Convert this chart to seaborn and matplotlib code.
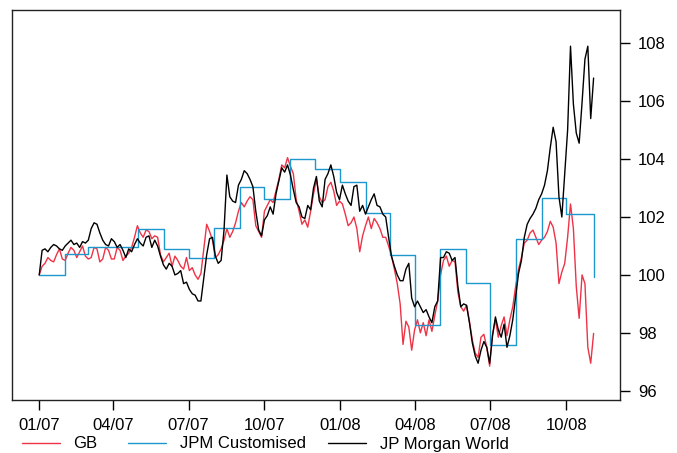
import pandas as pd
import matplotlib
matplotlib.use("Agg")
import matplotlib.pyplot as plt
import matplotlib.dates as mdates
import seaborn as sns

dates = pd.date_range("2007-01-01", "2008-11-03", freq="84h")

gb = [100.0, 100.3, 100.4, 100.6, 100.5, 100.45, 100.7, 100.9, 100.55, 100.5,
      100.75, 100.95, 100.85, 100.6, 100.8, 101.0, 100.65, 100.55, 100.6, 100.95,
      100.9, 100.45, 100.55, 100.95, 100.85, 100.55, 100.55, 100.95, 100.85, 100.5,
      100.65, 100.75, 100.95, 101.3, 101.7, 101.45, 101.3, 101.55, 101.5, 101.25,
      101.35, 101.3, 100.7, 100.45, 100.6, 100.75, 100.3, 100.65, 100.5, 100.3,
      100.2, 100.6, 100.15, 100.25, 100.0, 99.85, 100.05, 100.9, 101.75, 101.5,
      101.2, 100.6, 100.7, 100.9, 101.2, 101.6, 101.3, 101.5, 101.8, 102.2,
      102.5, 102.35, 102.55, 102.7, 102.6, 101.7, 101.5, 101.3, 102.2, 102.4,
      102.6, 102.5, 102.9, 103.3, 103.8, 103.7, 104.05, 103.75, 103.5, 102.6,
      102.2, 101.75, 101.9, 101.65, 102.2, 102.8, 103.3, 102.7, 102.5, 102.6,
      103.05, 103.2, 102.9, 102.4, 102.55, 102.45, 102.1, 101.7, 101.8, 102.0,
      101.6, 100.8, 101.35, 101.7, 102.0, 101.6, 101.95, 101.8, 101.6, 101.3,
      101.3, 101.0, 100.65, 100.2, 99.7, 99.0, 97.6, 98.4, 98.2, 97.4,
      98.1, 98.45, 98.0, 98.35, 97.9, 98.45, 98.05, 98.6, 99.1, 100.0,
      100.5, 100.65, 100.3, 100.5, 100.45, 99.4, 98.9, 98.75, 98.95, 98.4,
      97.75, 97.3, 97.15, 97.85, 97.95, 97.5, 96.85, 97.95, 98.45, 97.85,
      98.25, 98.55, 97.9, 98.45, 98.9, 99.6, 100.2, 100.6, 101.1, 101.2,
      101.45, 101.55, 101.3, 101.05, 101.2, 101.3, 101.5, 101.85, 101.65, 101.1,
      99.7, 100.1, 100.4, 101.3, 102.45, 101.6, 99.6, 98.5, 100.0, 99.7,
      97.5, 96.95, 97.98]

jpm_world = [100.0, 100.85, 100.9, 100.8, 100.95, 101.05, 101.0, 100.9, 100.85, 101.0,
             101.1, 101.2, 101.05, 101.1, 100.95, 101.15, 101.1, 101.2, 101.6, 101.8,
             101.75, 101.45, 101.2, 101.05, 101.0, 101.25, 101.15, 100.95, 101.05, 100.85,
             100.6, 100.9, 100.8, 101.05, 101.25, 101.1, 101.0, 101.3, 101.35, 100.95,
             101.2, 101.0, 100.65, 100.35, 100.2, 100.4, 100.3, 100.0, 100.05, 100.15,
             99.7, 99.75, 99.5, 99.35, 99.3, 99.1, 99.1, 99.9, 100.7, 101.25,
             101.3, 100.65, 100.4, 100.5, 101.55, 103.45, 102.7, 102.55, 102.5, 103.1,
             103.3, 103.6, 103.5, 103.3, 103.05, 102.2, 101.55, 101.35, 101.9, 102.05,
             102.35, 102.1, 102.8, 103.25, 103.7, 103.55, 103.8, 103.45, 102.95, 102.5,
             102.35, 102.0, 101.95, 102.4, 102.25, 103.0, 103.4, 102.55, 102.35, 103.3,
             103.5, 103.8, 103.4, 102.85, 102.6, 103.1, 102.8, 102.55, 102.4, 103.05,
             103.1, 102.2, 102.4, 102.1, 102.35, 102.6, 102.8, 102.4, 102.35, 102.1,
             102.0, 101.3, 100.65, 100.3, 100.0, 99.8, 99.8, 100.2, 100.4, 99.2,
             98.9, 99.1, 98.9, 98.7, 98.8, 98.55, 98.35, 98.9, 99.1, 100.6,
             100.6, 100.8, 100.75, 100.5, 100.6, 99.6, 98.9, 99.0, 98.95, 98.35,
             97.65, 97.2, 96.95, 97.4, 97.7, 97.5, 96.95, 97.9, 98.55, 98.1,
             97.85, 98.3, 97.5, 97.9, 98.45, 99.25, 100.05, 100.5, 101.3, 101.75,
             101.95, 102.1, 102.3, 102.6, 102.8, 103.1, 103.6, 104.4, 105.1, 104.6,
             102.7, 102.0, 103.5, 105.0, 107.9, 105.9, 104.9, 104.55, 105.95, 107.45,
             107.9, 105.4, 106.8]

# monthly benchmark levels
months = list(pd.date_range("2007-01-01", "2008-10-01", freq="MS")) + [pd.Timestamp("2008-11-03")]
jpm_custom = [100.0, 100.72, 100.97, 100.97, 101.6, 100.9, 100.6, 101.62, 103.03, 102.62,
              104.0, 103.65, 103.2, 102.15, 100.69, 98.27, 100.9, 99.71, 97.58, 101.23,
              102.66, 102.1, 99.92]

df_d = pd.DataFrame({"date": dates, "GB": gb, "JP Morgan World": jpm_world})
df_m = pd.DataFrame({"date": months, "JPM Customised": jpm_custom})

sns.set_style("white")
plt.rcParams["font.family"] = ["Liberation Sans", "DejaVu Sans"]
plt.rcParams["text.color"] = "black"

fig = plt.figure(figsize=(6.77, 4.53), dpi=100)
ax = fig.add_axes([12 / 677, 1 - 400 / 453, 608 / 677, 390 / 453])

sns.lineplot(data=df_d, x="date", y="GB", color="#EE3347", lw=1.0, label="GB", ax=ax)
sns.lineplot(data=df_m, x="date", y="JPM Customised", color="#1E98CC", lw=1.0,
             drawstyle="steps-post", label="JPM Customised", ax=ax)
sns.lineplot(data=df_d, x="date", y="JP Morgan World", color="black", lw=1.0,
             label="JP Morgan World", ax=ax)

ax.set_xlim(pd.Timestamp("2006-11-29"), pd.Timestamp("2008-12-05"))
ax.set_ylim(95.68, 109.15)
ax.set_xticks(pd.date_range("2007-01-01", "2008-10-01", freq="QS"))
ax.xaxis.set_major_formatter(mdates.DateFormatter("%m/%y"))
ax.set_yticks(range(96, 109, 2))
ax.yaxis.tick_right()
ax.set_xlabel("")
ax.set_ylabel("")
ax.tick_params(axis="both", direction="out", length=7, width=1, colors="black",
               labelsize=12, pad=6)
ax.tick_params(axis="x", bottom=True, top=False)
ax.tick_params(axis="y", left=False, right=True)
for s in ax.spines.values():
    s.set_color("#222222")
    s.set_linewidth(1.0)

# legend below the plot, one entry at a time so each sits where the original puts it
h, l = ax.get_legend_handles_labels()
ax.get_legend().remove()
for handle, label, xpos in zip(h, l, [21.5, 128, 328]):
    fig.legend([handle], [label], frameon=False, loc="center left",
               bbox_to_anchor=(xpos / 677, 1 - 444 / 453), borderpad=0,
               borderaxespad=0, handlelength=2.3, handletextpad=0.8, fontsize=12,
               labelcolor="black")

fig.savefig("out.png", dpi=100)
